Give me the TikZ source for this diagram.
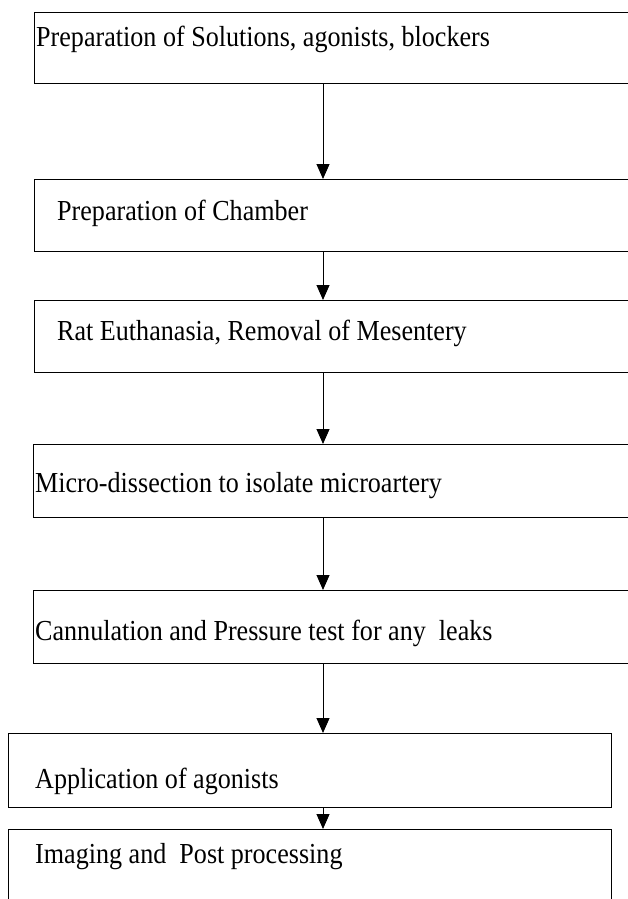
\documentclass[tikz,border=0pt]{standalone}
\usepackage{fontspec}
\setmainfont[FakeStretch=0.9]{Liberation Serif}
\usetikzlibrary{arrows.meta,positioning}

\tikzset{
  stepbox/.style={draw=black,line width=1.3pt,anchor=north west,inner sep=0pt,
                  minimum width=610pt,minimum height=72pt},
  steptext/.style={anchor=base west,inner sep=0pt,font=\fontsize{29}{33}\selectfont},
  flowarrow/.style={-{Triangle[length=15pt,width=13pt]},line width=1pt}
}

\begin{document}
\begin{tikzpicture}[x=1pt,y=-1pt]
  \useasboundingbox (0,0) rectangle (628,899);
  \clip (0,0) rectangle (628,899);

  % boxes (right side runs off the page)
  \node[stepbox,minimum height=71pt] (s1) at (34,12) {};
  \node[stepbox] (s2) at (34,179) {};
  \node[stepbox] (s3) at (34,300) {};
  \node[stepbox,minimum height=73pt] (s4) at (33,444) {};
  \node[stepbox,minimum height=73pt] (s5) at (33,590) {};
  % last two boxes are narrower
  \node[stepbox,minimum width=603pt,minimum height=74pt] (s6) at (8,733) {};
  \node[stepbox,minimum width=603pt,minimum height=100pt] (s7) at (8,829) {};

  % texts
  \node[steptext] (t1) at (36,47) {Preparation of Solutions, agonists, blockers};
  \node[steptext] (t2) at (57,220) {Preparation of Chamber};
  \node[steptext] (t3) at (57,340) {Rat Euthanasia, Removal of Mesentery};
  \node[steptext] (t4) at (35,492) {Micro-dissection to isolate microartery};
  \node[steptext] (t5) at (35,640) {Cannulation and Pressure test for any~ leaks};
  \node[steptext] (t6) at (35,788) {Application of agonists};
  \node[steptext] (t7) at (35,863) {Imaging and~ Post processing};

  % arrows
  \coordinate (ax) at (323,0);
  \foreach \a/\b in {s1/s2,s2/s3,s3/s4,s4/s5,s5/s6,s6/s7}
    \draw[flowarrow] (\a.south -| ax) -- (\b.north -| ax);
\end{tikzpicture}
\end{document}
